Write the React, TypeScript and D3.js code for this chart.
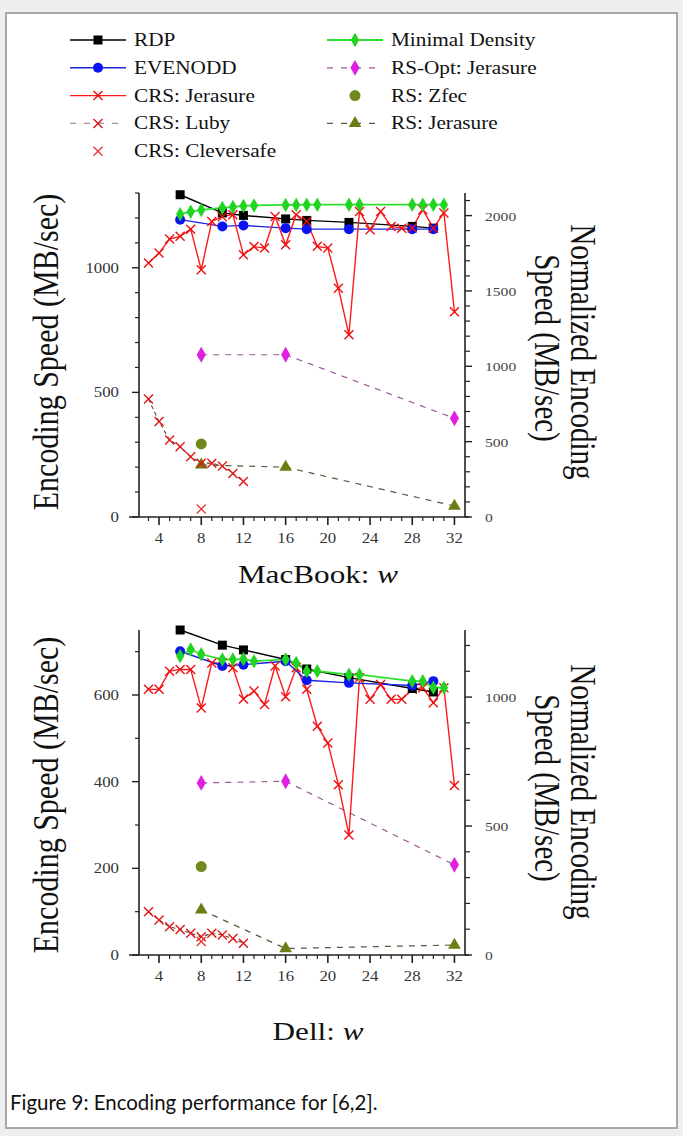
import React from 'react';
import * as d3 from 'd3';

// ---------- data ----------
const wMajorTicks = [4, 8, 12, 16, 20, 24, 28, 32];
const wMinorTicks = [3, 5, 6, 7, 9, 10, 11, 13, 14, 15, 17, 18, 19, 21, 22, 23, 25, 26, 27, 29, 30, 31];

const wRdpEvenodd = [6, 10, 12, 16, 18, 22, 28, 30];
const wMinDensity = [6, 7, 8, 10, 11, 12, 13, 16, 17, 18, 19, 22, 23, 28, 29, 30, 31];
const wCrsJerasure = [3, 4, 5, 6, 7, 8, 9, 10, 11, 12, 13, 14, 15, 16, 17, 18, 19, 20, 21, 22, 23, 24, 25, 26, 27, 28, 29, 30, 31, 32];
const wCrsLuby = [3, 4, 5, 6, 7, 8, 9, 10, 11, 12];
const wCleversafe = [8];
const wRsOpt = [8, 16, 32];
const wRsZfec = [8];
const wRsJerasure = [8, 16, 32];

// MacBook (MB/sec)
const macRdp = [1293, 1220, 1210, 1196, 1190, 1182, 1166, 1159];
const macEvenodd = [1193, 1166, 1170, 1159, 1155, 1155, 1155, 1155];
const macMinDensity = [1215, 1225, 1232, 1240, 1244, 1248, 1250, 1252, 1252, 1253, 1253, 1253, 1253, 1253, 1253, 1253, 1253];
const macCrsJerasure = [1019, 1059, 1115, 1126, 1155, 992, 1186, 1205, 1213, 1052, 1085, 1079, 1206, 1092, 1213, 1186, 1086, 1079, 918, 731, 1226, 1153, 1226, 1166, 1159, 1160, 1233, 1159, 1220, 824];
const macCrsLuby = [473, 383, 309, 282, 242, 216, 216, 205, 175, 142];
const macCleversafe = [32];
const macRsOpt = [651, 651, 396];
const macRsZfec = [293];
const macRsJerasure = [209, 200, 44];

// Dell (MB/sec)
const dellRdp = [750, 715, 704, 682, 660, 640, 615, 607];
const dellEvenodd = [701, 667, 670, 678, 634, 628, 622, 632];
const dellMinDensity = [690, 705, 694, 682, 682, 683, 678, 682, 674, 655, 655, 647, 647, 632, 632, 617, 617];
const dellCrsJerasure = [613, 613, 655, 659, 659, 570, 674, 674, 663, 591, 609, 578, 667, 596, 663, 613, 528, 489, 393, 277, 640, 590, 624, 590, 590, 613, 617, 582, 617, 391];
const dellCrsLuby = [100, 81, 65, 59, 50, 42, 50, 46, 38, 27];
const dellCleversafe = [31];
const dellRsOpt = [397, 401, 208];
const dellRsZfec = [204];
const dellRsJerasure = [104, 15, 23];

const macLeftTicks = [0, 500, 1000];
const macRightTicks = [0, 500, 1000, 1500, 2000];
const dellLeftTicks = [0, 200, 400, 600];
const dellRightTicks = [0, 500, 1000];

const legendLeft = ['RDP', 'EVENODD', 'CRS: Jerasure', 'CRS: Luby', 'CRS: Cleversafe'];
const legendRight = ['Minimal Density', 'RS-Opt: Jerasure', 'RS: Zfec', 'RS: Jerasure'];

// ---------- styles ----------
type St = { color: string; marker: string; line: string | null; dash?: string; width?: number };
const STY: Record<string, St> = {
  'RDP': { color: '#000000', marker: 'square', line: '#000000', width: 1.4 },
  'EVENODD': { color: '#0a14f0', marker: 'circle', line: '#1a24e0', width: 1.4 },
  'CRS: Jerasure': { color: '#ee1111', marker: 'x', line: '#ff1a1a', width: 1.4 },
  'CRS: Luby': { color: '#e01818', marker: 'x', line: '#6a4040', dash: '4,3', width: 1.1 },
  'CRS: Cleversafe': { color: '#e63c3c', marker: 'x', line: null },
  'Minimal Density': { color: '#22d422', marker: 'diamond', line: '#2ee02e', width: 1.8 },
  'RS-Opt: Jerasure': { color: '#e020e0', marker: 'diamondBig', line: '#9a5a9a', dash: '6,6', width: 1.2 },
  'RS: Zfec': { color: '#6f8a1a', marker: 'circleBig', line: null },
  'RS: Jerasure': { color: '#6b7d16', marker: 'triangle', line: '#5a5a40', dash: '6,6', width: 1.2 },
};

const SX = 1.2;
const SERIF = '"Liberation Serif", "Times New Roman", serif';

function HText(props: { x: number; y: number; size: number; anchor?: string; fill?: string; children: any; sx?: number }) {
  const { x, y, size, anchor = 'start', fill = '#111', children, sx = SX } = props;
  return (
    <g transform={`translate(${x},${y}) scale(${sx},1)`}>
      <text x={0} y={0} fontFamily={SERIF} fontSize={size} textAnchor={anchor} fill={fill}>{children}</text>
    </g>
  );
}

function VText(props: { x: number; y: number; size: number; rot: number; children: any }) {
  const { x, y, size, rot, children } = props;
  return (
    <g transform={`translate(${x},${y}) scale(1.22,1) rotate(${rot})`}>
      <text x={0} y={0} fontFamily={SERIF} fontSize={size} textAnchor="middle" dominantBaseline="central" fill="#111">{children}</text>
    </g>
  );
}

function Marker({ type, x, y, color }: { type: string; x: number; y: number; color: string }) {
  if (type === 'square') return <rect x={x - 4.5} y={y - 4.5} width={9} height={9} fill={color} />;
  if (type === 'circle') return <circle cx={x} cy={y} r={5} fill={color} />;
  if (type === 'circleBig') return <circle cx={x} cy={y} r={5.5} fill={color} />;
  if (type === 'x') {
    const s = 4.5;
    return (
      <g stroke={color} strokeWidth={1.4}>
        <line x1={x - s} y1={y - s} x2={x + s} y2={y + s} />
        <line x1={x - s} y1={y + s} x2={x + s} y2={y - s} />
      </g>
    );
  }
  let sym: any = d3.symbolDiamond;
  let size = 60;
  if (type === 'diamondBig') size = 72;
  if (type === 'triangle') { sym = d3.symbolTriangle; size = 70; }
  const d = d3.symbol().type(sym).size(size)() as string;
  return <path d={d} transform={`translate(${x},${y})`} fill={color} />;
}

type Ser = { name: string; w: number[]; v: number[] };

function Panel(props: {
  yBottom: number; yTop: number; leftMax: number; rightMax: number;
  leftTicks: number[]; rightTicks: number[]; series: Ser[];
  xTitle: string; titleY: number; leftTitleY: number; rightTitleY: number;
}) {
  const { yBottom, yTop, leftMax, rightMax, leftTicks, rightTicks, series, xTitle, titleY, leftTitleY, rightTitleY } = props;
  const xL = 139, xR = 465;
  const x = d3.scaleLinear().domain([2.1, 33]).range([xL, xR]);
  const y = d3.scaleLinear().domain([0, leftMax]).range([yBottom, yTop]);
  const yr = d3.scaleLinear().domain([0, rightMax]).range([yBottom, yTop]);
  const leftMinor = d3.range(0, leftMax + 1, 100).filter(t => !leftTicks.includes(t));
  const rightMinor = d3.range(0, rightMax + 1, 100).filter(t => !rightTicks.includes(t));
  const line = d3.line<[number, number]>().x(d => x(d[0])).y(d => y(d[1]));
  const axisColor = '#222';
  return (
    <g>
      <line x1={xL} y1={yTop} x2={xL} y2={yBottom} stroke={axisColor} strokeWidth={1.6} />
      <line x1={xR} y1={yTop} x2={xR} y2={yBottom} stroke={axisColor} strokeWidth={1.6} />
      <line x1={xL - 10} y1={yBottom} x2={xR + 4} y2={yBottom} stroke={axisColor} strokeWidth={1.6} />
      {leftTicks.map(t => (
        <g key={'lt' + t}>
          <line x1={xL - 7} x2={xL} y1={y(t)} y2={y(t)} stroke={axisColor} strokeWidth={1.4} />
          <HText x={xL - 20} y={y(t) + 5} size={14} anchor="end" fill="#333">{String(t)}</HText>
        </g>
      ))}
      {leftMinor.map(t => <line key={'lm' + t} x1={xL - 4} x2={xL} y1={y(t)} y2={y(t)} stroke={axisColor} strokeWidth={1.2} />)}
      {rightTicks.map(t => (
        <g key={'rt' + t}>
          <line x1={xR} x2={xR + 7} y1={yr(t)} y2={yr(t)} stroke={axisColor} strokeWidth={1.4} />
          <HText x={xR + 20} y={yr(t) + 5} size={13} anchor="start" fill="#444">{String(t)}</HText>
        </g>
      ))}
      {rightMinor.map(t => <line key={'rm' + t} x1={xR} x2={xR + 5} y1={yr(t)} y2={yr(t)} stroke={axisColor} strokeWidth={1.2} />)}
      {wMajorTicks.map(t => (
        <g key={'xt' + t}>
          <line x1={x(t)} x2={x(t)} y1={yBottom} y2={yBottom + 8} stroke={axisColor} strokeWidth={1.6} />
          <HText x={x(t)} y={yBottom + 26} size={14} anchor="middle" fill="#333">{String(t)}</HText>
        </g>
      ))}
      {wMinorTicks.map(t => <line key={'xm' + t} x1={x(t)} x2={x(t)} y1={yBottom} y2={yBottom + 4} stroke={axisColor} strokeWidth={1.2} />)}
      {series.map(s => {
        const st = STY[s.name];
        if (!st.line || s.w.length < 2) return null;
        const pts = s.w.map((w, i) => [w, s.v[i]] as [number, number]);
        return <path key={'l' + s.name} d={line(pts) as string} fill="none" stroke={st.line} strokeWidth={st.width ?? 1.3} strokeDasharray={st.dash} />;
      })}
      {series.map(s => {
        const st = STY[s.name];
        return (
          <g key={'m' + s.name}>
            {s.w.map((w, i) => <Marker key={i} type={st.marker} x={x(w)} y={y(s.v[i])} color={st.color} />)}
          </g>
        );
      })}
      <VText x={45} y={leftTitleY} size={30} rot={-90}>Encoding Speed (MB/sec)</VText>
      <VText x={583} y={rightTitleY} size={29} rot={90}>Normalized Encoding</VText>
      <VText x={547} y={rightTitleY - 4} size={29} rot={90}>Speed (MB/sec)</VText>
      <g transform={`translate(318,${titleY}) scale(1.2,1)`}>
        <text x={0} y={0} fontFamily={SERIF} fontSize={26} textAnchor="middle" fill="#111">
          {xTitle}<tspan fontStyle="italic">w</tspan>
        </text>
      </g>
    </g>
  );
}

function Legend() {
  const rowY = (i: number) => 40 + i * 27.8;
  const item = (name: string, i: number, x0: number) => {
    const st = STY[name];
    const y = rowY(i);
    return (
      <g key={name}>
        {st.line && <line x1={x0} x2={x0 + 56} y1={y} y2={y} stroke={name === 'CRS: Luby' ? '#999' : st.line} strokeWidth={st.width ?? 1.3} strokeDasharray={st.dash ? '6,8' : undefined} />}
        <Marker type={st.marker} x={x0 + 28} y={y} color={st.color} />
        <HText x={x0 + 64} y={y + 6} size={18} sx={1.18}>{name}</HText>
      </g>
    );
  };
  return (
    <g>
      {legendLeft.map((n, i) => item(n, i, 70))}
      {legendRight.map((n, i) => item(n, i, 327))}
    </g>
  );
}

export default function App() {
  const macSeries: Ser[] = [
    { name: 'RS-Opt: Jerasure', w: wRsOpt, v: macRsOpt },
    { name: 'RS: Jerasure', w: wRsJerasure, v: macRsJerasure },
    { name: 'RS: Zfec', w: wRsZfec, v: macRsZfec },
    { name: 'CRS: Luby', w: wCrsLuby, v: macCrsLuby },
    { name: 'CRS: Cleversafe', w: wCleversafe, v: macCleversafe },
    { name: 'RDP', w: wRdpEvenodd, v: macRdp },
    { name: 'EVENODD', w: wRdpEvenodd, v: macEvenodd },
    { name: 'CRS: Jerasure', w: wCrsJerasure, v: macCrsJerasure },
    { name: 'Minimal Density', w: wMinDensity, v: macMinDensity },
  ];
  const dellSeries: Ser[] = [
    { name: 'RS-Opt: Jerasure', w: wRsOpt, v: dellRsOpt },
    { name: 'RS: Jerasure', w: wRsJerasure, v: dellRsJerasure },
    { name: 'RS: Zfec', w: wRsZfec, v: dellRsZfec },
    { name: 'CRS: Luby', w: wCrsLuby, v: dellCrsLuby },
    { name: 'CRS: Cleversafe', w: wCleversafe, v: dellCleversafe },
    { name: 'CRS: Jerasure', w: wCrsJerasure, v: dellCrsJerasure },
    { name: 'RDP', w: wRdpEvenodd, v: dellRdp },
    { name: 'EVENODD', w: wRdpEvenodd, v: dellEvenodd },
    { name: 'Minimal Density', w: wMinDensity, v: dellMinDensity },
  ];
  return (
    <svg width={683} height={1136} style={{ position: 'absolute', left: 0, top: 0, background: '#f0f0f0' }}>
      <rect x={0} y={0} width={683} height={1136} fill="#efefef" />
      <rect x={6} y={13} width={671} height={1115} fill="#ffffff" stroke="#a8a8a8" strokeWidth={2} />
      <Legend />
      <Panel yBottom={517} yTop={193} leftMax={1300} rightMax={2150} leftTicks={macLeftTicks} rightTicks={macRightTicks}
        series={macSeries} xTitle="MacBook: " titleY={583} leftTitleY={352} rightTitleY={352} />
      <Panel yBottom={955} yTop={630} leftMax={750} rightMax={1260} leftTicks={dellLeftTicks} rightTicks={dellRightTicks}
        series={dellSeries} xTitle="Dell: " titleY={1040} leftTitleY={795} rightTitleY={792} />
      <g transform="translate(10,1110) scale(0.93,1)">
        <text x={0} y={0} fontFamily='Lato, "Open Sans", sans-serif' fontSize={22} fill="#111">Figure 9: Encoding performance for [6,2].</text>
      </g>
    </svg>
  );
}
